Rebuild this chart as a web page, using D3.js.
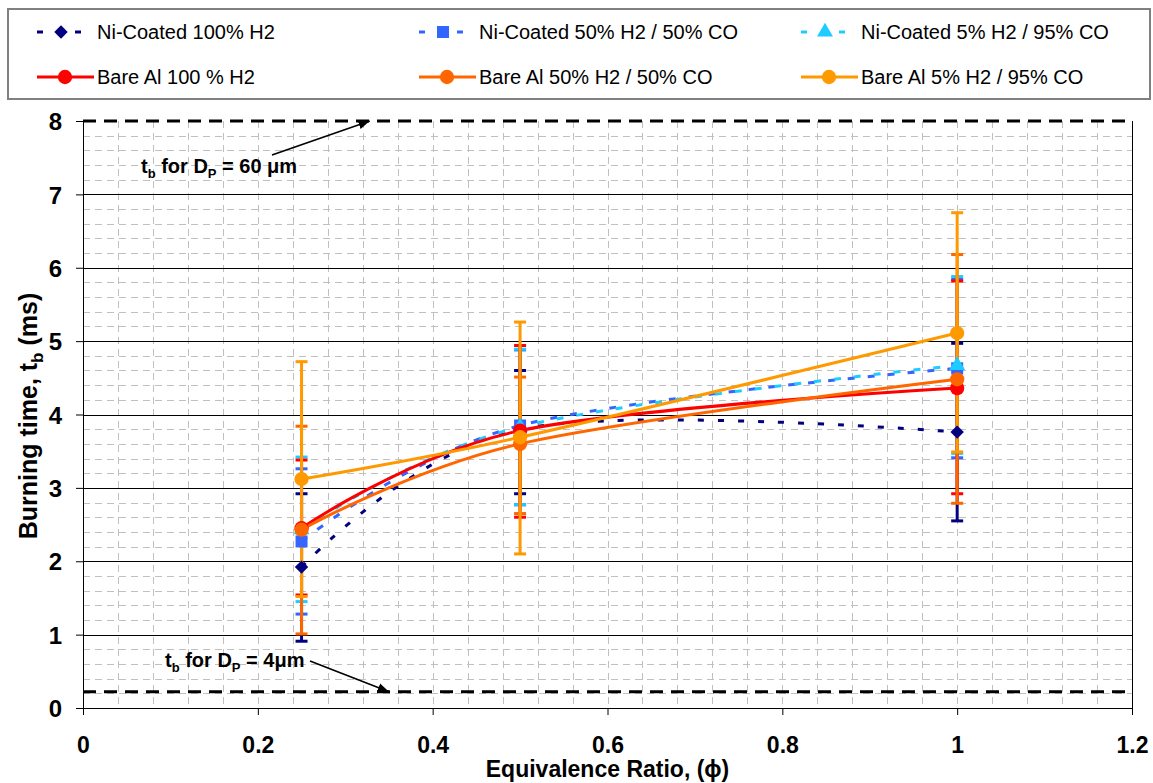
<!DOCTYPE html>
<html>
<head>
<meta charset="utf-8">
<script src="https://cdn.jsdelivr.net/npm/d3@7"></script>
<style>
  body { margin: 0; background: #fff; }
  text { font-family: Arial, "Liberation Sans", sans-serif; }
</style>
</head>
<body>
<div id="chart"></div>
<script>
// equivalence ratio of the three test points
const phi = [0.25, 0.5, 1.0];

// burning time (ms) with upper / lower error bar ends
const ni100 = [1.92, 3.80, 3.76];
const ni100Hi = [2.92, 4.60, 4.97];
const ni100Lo = [0.91, 2.92, 2.55];

const ni50 = [2.27, 3.85, 4.63];
const ni50Hi = [3.26, 4.88, 5.84];
const ni50Lo = [1.28, 2.77, 3.41];

const ni5 = [2.43, 3.83, 4.67];
const ni5Hi = [3.42, 4.89, 5.88];
const ni5Lo = [1.45, 2.77, 3.47];

const bare100 = [2.45, 3.78, 4.36];
const bare100Hi = [3.38, 4.94, 5.82];
const bare100Lo = [1.54, 2.60, 2.92];

const bare50 = [2.43, 3.60, 4.48];
const bare50Hi = [3.84, 4.51, 6.18];
const bare50Lo = [1.01, 2.65, 2.79];

const bare5 = [3.12, 3.69, 5.11];
const bare5Hi = [4.72, 5.26, 6.75];
const bare5Lo = [1.52, 2.10, 3.49];

// burning time limits for 60 um and 4 um particles
const refLines = [8, 0.22];

const xTicks = [0, 0.2, 0.4, 0.6, 0.8, 1, 1.2];
const yTicks = [0, 1, 2, 3, 4, 5, 6, 7, 8];

const names = [
  "Ni-Coated 100% H2", "Ni-Coated 50% H2 / 50% CO", "Ni-Coated 5% H2 / 95% CO",
  "Bare Al 100 % H2", "Bare Al 50% H2 / 50% CO", "Bare Al 5% H2 / 95% CO"
];

const series = [
  { name: names[0], y: ni100, hi: ni100Hi, lo: ni100Lo, color: "#000080", dash: "6,14", symbol: "diamond" },
  { name: names[1], y: ni50, hi: ni50Hi, lo: ni50Lo, color: "#3366FF", dash: "7,13", symbol: "square" },
  { name: names[2], y: ni5, hi: ni5Hi, lo: ni5Lo, color: "#1ECCFF", dash: "7,13", symbol: "triangle" },
  { name: names[3], y: bare100, hi: bare100Hi, lo: bare100Lo, color: "#FF0000", dash: null, symbol: "circle" },
  { name: names[4], y: bare50, hi: bare50Hi, lo: bare50Lo, color: "#FF6600", dash: null, symbol: "circle" },
  { name: names[5], y: bare5, hi: bare5Hi, lo: bare5Lo, color: "#FF9900", dash: null, symbol: "circle" }
];

const W = 1153, H = 783;
const plot = { left: 83, right: 1132, top: 121, bottom: 708 };

const svg = d3.select("#chart").append("svg")
  .attr("width", W)
  .attr("height", H);

const x = d3.scaleLinear().domain([0, 1.2]).range([plot.left, plot.right]);
const y = d3.scaleLinear().domain([0, 8]).range([plot.bottom, plot.top]);

// minor dashed grid
const grid = svg.append("g");
const vMinor = d3.range(1, 30).map(i => i * 0.04);
grid.selectAll(".vminor")
  .data(vMinor)
  .enter().append("line")
  .attr("x1", d => Math.round(x(d)) + 0.5)
  .attr("x2", d => Math.round(x(d)) + 0.5)
  .attr("y1", plot.top)
  .attr("y2", plot.bottom)
  .attr("stroke", "#c0c0c0")
  .attr("stroke-dasharray", "7,5");

const hMinor = d3.range(1, 40).filter(i => i % 5 !== 0).map(i => i * 0.2);
grid.selectAll(".hminor")
  .data(hMinor)
  .enter().append("line")
  .attr("x1", plot.left)
  .attr("x2", plot.right)
  .attr("y1", d => Math.round(y(d)) + 0.5)
  .attr("y2", d => Math.round(y(d)) + 0.5)
  .attr("stroke", "#c0c0c0")
  .attr("stroke-dasharray", "7,5");

// major solid grid
grid.selectAll(".hmajor")
  .data(yTicks.filter(d => d > 0 && d < 8))
  .enter().append("line")
  .attr("x1", plot.left)
  .attr("x2", plot.right)
  .attr("y1", d => Math.round(y(d)) + 0.5)
  .attr("y2", d => Math.round(y(d)) + 0.5)
  .attr("stroke", "#000");

// right border of plot area
svg.append("line")
  .attr("x1", plot.right + 0.5).attr("x2", plot.right + 0.5)
  .attr("y1", plot.top).attr("y2", plot.bottom)
  .attr("stroke", "#000");

// reference lines
svg.selectAll(".ref")
  .data(refLines)
  .enter().append("line")
  .attr("x1", plot.left)
  .attr("x2", plot.right)
  .attr("y1", d => y(d))
  .attr("y2", d => y(d))
  .attr("stroke", "#000")
  .attr("stroke-width", 3)
  .attr("stroke-dasharray", "13,8");

// axes
const xAxis = svg.append("g")
  .attr("transform", `translate(0,${plot.bottom})`)
  .call(d3.axisBottom(x).tickValues(xTicks).tickSize(7).tickSizeOuter(0)
    .tickFormat(d => d3.format("~g")(d)));
xAxis.select(".domain").attr("stroke", "#000");
xAxis.selectAll("text")
  .attr("y", 45).attr("dy", null)
  .style("font-size", "23px").style("font-weight", "bold").attr("fill", "#000");

const yAxis = svg.append("g")
  .attr("transform", `translate(${plot.left},0)`)
  .call(d3.axisLeft(y).tickValues(yTicks).tickSize(7).tickSizeOuter(0));
yAxis.select(".domain").attr("stroke", "#000");
yAxis.selectAll("text")
  .attr("x", -21).attr("dy", "0.36em")
  .style("font-size", "24px").style("font-weight", "bold").attr("fill", "#000");

// axis titles
svg.append("text")
  .attr("x", (plot.left + plot.right) / 2)
  .attr("y", 777)
  .attr("text-anchor", "middle")
  .style("font-size", "23px")
  .style("font-weight", "bold")
  .text("Equivalence Ratio, (\u03D5)");

const yTitle = svg.append("text")
  .attr("transform", "translate(37,416) rotate(-90)")
  .attr("text-anchor", "middle")
  .style("font-size", "25px")
  .style("font-weight", "bold");
yTitle.append("tspan").text("Burning time, t");
yTitle.append("tspan").attr("dy", 6).style("font-size", "17px").text("b");
yTitle.append("tspan").attr("dy", -6).text(" (ms)");

// marker shapes
function symbolPath(type) {
  if (type === "diamond") return d3.symbol(d3.symbolSquare, 90)();
  if (type === "square") return d3.symbol(d3.symbolSquare, 144)();
  if (type === "triangle") return d3.symbol(d3.symbolTriangle, 110)();
  return d3.symbol(d3.symbolCircle, 160)();
}
function symbolRotate(type) {
  return type === "diamond" ? " rotate(45)" : "";
}

// error bars
const errG = svg.append("g");
series.forEach(s => {
  const g = errG.append("g");
  const pts = phi.map((p, i) => ({ p: p, hi: s.hi[i], lo: s.lo[i] }));
  g.selectAll(".bar")
    .data(pts)
    .enter().append("line")
    .attr("x1", d => x(d.p)).attr("x2", d => x(d.p))
    .attr("y1", d => y(d.hi)).attr("y2", d => y(d.lo))
    .attr("stroke", s.color)
    .attr("stroke-width", 3);
  ["hi", "lo"].forEach(k => {
    g.selectAll(".cap-" + k)
      .data(pts)
      .enter().append("line")
      .attr("x1", d => x(d.p) - 6).attr("x2", d => x(d.p) + 6)
      .attr("y1", d => y(d[k])).attr("y2", d => y(d[k]))
      .attr("stroke", s.color)
      .attr("stroke-width", 3);
  });
});

// smoothed lines (Excel-like uniform Catmull-Rom)
const line = d3.line()
  .x(d => x(d[0]))
  .y(d => y(d[1]))
  .curve(d3.curveCatmullRom.alpha(0));

const lineG = svg.append("g");
series.forEach(s => {
  lineG.append("path")
    .datum(phi.map((p, i) => [p, s.y[i]]))
    .attr("d", line)
    .attr("fill", "none")
    .attr("stroke", s.color)
    .attr("stroke-width", 3)
    .attr("stroke-dasharray", s.dash);
});

// markers
const markG = svg.append("g");
series.forEach(s => {
  markG.selectAll(null)
    .data(phi.map((p, i) => [p, s.y[i]]))
    .enter().append("path")
    .attr("d", symbolPath(s.symbol))
    .attr("transform", d => `translate(${x(d[0])},${y(d[1])})` + symbolRotate(s.symbol))
    .attr("fill", s.color);
});

// annotations
svg.append("defs").append("marker")
  .attr("id", "arrow")
  .attr("viewBox", "0 0 10 10")
  .attr("refX", 10).attr("refY", 5)
  .attr("markerWidth", 7).attr("markerHeight", 7)
  .attr("orient", "auto")
  .append("path")
  .attr("d", "M0,1 L10,5 L0,9 Z")
  .attr("fill", "#000");

function annotation(tx, ty, size, arrowFrom, arrowTo) {
  const t = svg.append("text")
    .attr("x", tx).attr("y", ty)
    .style("font-size", "20px")
    .style("font-weight", "bold");
  t.append("tspan").text("t");
  t.append("tspan").attr("dy", 5).style("font-size", "13px").text("b");
  t.append("tspan").attr("dy", -5).text(" for D");
  t.append("tspan").attr("dy", 5).style("font-size", "13px").text("P");
  t.append("tspan").attr("dy", -5).text(size);
  svg.append("line")
    .attr("x1", arrowFrom[0]).attr("y1", arrowFrom[1])
    .attr("x2", arrowTo[0]).attr("y2", arrowTo[1])
    .attr("stroke", "#000")
    .attr("stroke-width", 1.6)
    .attr("marker-end", "url(#arrow)");
}
annotation(141, 173, " = 60 \u03BCm", [272, 155], [x(0.328), y(refLines[0])]);
annotation(165, 667, " = 4\u03BCm", [310, 661], [x(0.35), y(refLines[1])]);

// legend
const legend = svg.append("g");
legend.append("rect")
  .attr("x", 8).attr("y", 9)
  .attr("width", 1142).attr("height", 90)
  .attr("fill", "#fff")
  .attr("stroke", "#808080")
  .attr("stroke-width", 2);

const colX = [37, 419, 801], rowY = [32, 77];
series.forEach((s, i) => {
  const cx = colX[i % 3], cy = rowY[Math.floor(i / 3)];
  const g = legend.append("g").attr("transform", `translate(${cx},${cy})`);
  if (s.dash) {
    g.append("line").attr("x1", 0).attr("x2", 6).attr("y1", 0).attr("y2", 0)
      .attr("stroke", s.color).attr("stroke-width", 3);
    g.append("line").attr("x1", 38).attr("x2", 44).attr("y1", 0).attr("y2", 0)
      .attr("stroke", s.color).attr("stroke-width", 3);
  } else {
    g.append("line").attr("x1", 0).attr("x2", 57).attr("y1", 0).attr("y2", 0)
      .attr("stroke", s.color).attr("stroke-width", 3);
  }
  g.append("path")
    .attr("d", symbolPath(s.symbol))
    .attr("transform", `translate(${s.dash ? 24 : 28},0)` + symbolRotate(s.symbol))
    .attr("fill", s.color);
  g.append("text")
    .attr("x", 60).attr("y", 7)
    .style("font-size", "20px")
    .text(s.name);
});
</script>
</body>
</html>
